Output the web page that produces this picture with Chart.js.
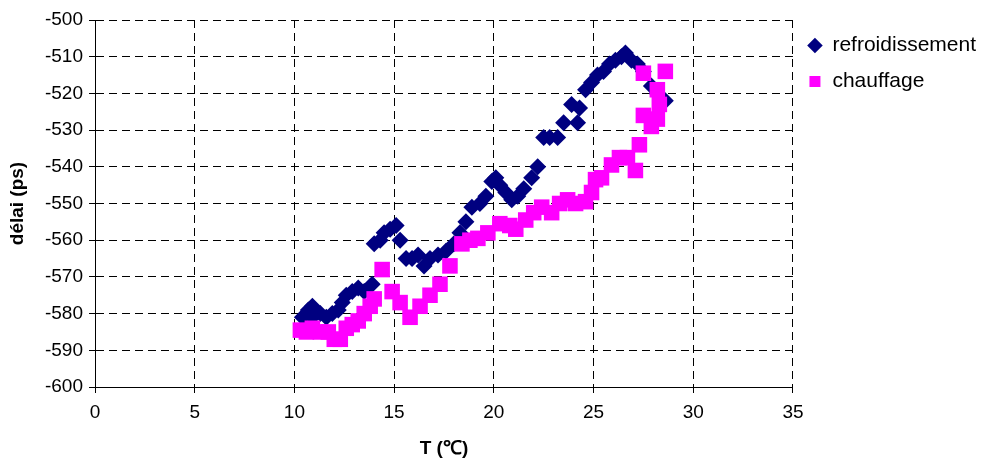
<!DOCTYPE html>
<html>
<head>
<meta charset="utf-8">
<script src="https://cdn.jsdelivr.net/npm/chart.js@4.4.0/dist/chart.umd.min.js"></script>
<style>
  html, body { margin: 0; padding: 0; background: #fff; }
  #wrap { width: 1004px; height: 460px; }
</style>
</head>
<body>
<div id="wrap"><canvas id="chart"></canvas></div>
<script>
// refroidissement (cooling) - T in deg C, delay in ps
const refroidT = [10.4, 10.7, 10.9, 10.9, 11.3, 11.6, 11.9, 12.2, 12.4, 12.6, 12.9, 13.2, 13.5, 13.9,
  14.0, 14.3, 14.5, 14.8, 15.1, 15.3, 15.6, 15.9, 16.2, 16.5, 16.8, 17.2, 17.6, 18.0, 18.3, 18.6,
  18.9, 19.3, 19.6, 19.9, 20.1, 20.3, 20.6, 20.9, 21.2, 21.5, 21.9, 22.2, 22.5, 22.8, 23.2, 23.5,
  23.9, 24.2, 24.3, 24.6, 24.9, 25.2, 25.5, 25.8, 26.1, 26.4, 26.6, 26.9, 27.2, 27.5, 27.9, 28.2, 28.6];
const refroidDelai = [-581, -579, -578, -581, -580, -581, -580, -579, -577, -575, -574, -573, -574, -572,
  -561, -560, -558, -557, -556, -560, -565, -565, -564, -567, -565, -564, -563, -561, -558, -555,
  -551, -550, -548, -544, -543, -545, -547, -549, -548, -546, -543, -540, -532, -532, -532, -528,
  -523, -528, -524, -519, -517, -515, -514, -512, -511, -510, -509, -511, -512, -514, -518, -520, -522];

// chauffage (heating)
const chauffT = [10.3, 10.6, 10.9, 11.3, 11.7, 12.0, 12.3, 12.6, 12.9, 13.2, 13.5, 13.8, 14.0, 14.4,
  14.9, 15.3, 15.8, 16.3, 16.8, 17.3, 17.8, 18.4, 18.8, 19.2, 19.7, 20.3, 20.8, 21.1, 21.6, 22.0,
  22.4, 22.9, 23.3, 23.7, 24.1, 24.6, 24.9, 25.1, 25.4, 25.9, 26.3, 26.7, 27.1, 27.3, 27.5, 27.9,
  28.2, 28.3, 28.2, 27.5, 28.6];
const chauffDelai = [-584.5, -585, -584, -585, -585, -587, -587, -584, -583, -582, -580, -578, -576, -568,
  -574, -577, -581, -578, -575, -572, -567, -561, -560, -559.5, -558, -555.5, -556, -557, -554.5, -552.5,
  -551, -552.5, -550, -549, -550, -549.5, -547, -543.5, -543, -539.5, -537.5, -537.5, -541, -534, -526, -529,
  -527, -523, -519, -514.5, -514];

const xMin = 0, xMax = 35, xStep = 5;
const yMin = -600, yMax = -500, yStep = 10;

const toPoints = (xs, ys) => xs.map((x, i) => ({ x: x, y: ys[i] }));

Chart.defaults.font.family = '"Liberation Sans", Arial, sans-serif';
Chart.defaults.color = '#000';

const ctx = document.getElementById('chart').getContext('2d');

new Chart(ctx, {
  type: 'scatter',
  data: {
    datasets: [
      {
        label: 'refroidissement',
        data: toPoints(refroidT, refroidDelai),
        pointStyle: 'rectRot',
        pointRadius: 8.5,
        pointHoverRadius: 8.5,
        backgroundColor: '#000080',
        borderColor: '#000080',
        borderWidth: 0,
        order: 1,
      },
      {
        label: 'chauffage',
        data: toPoints(chauffT, chauffDelai),
        pointStyle: 'rect',
        pointRadius: 11,
        pointHoverRadius: 11,
        backgroundColor: '#ff00ff',
        borderColor: '#ff00ff',
        borderWidth: 0,
        order: 0,
      },
    ],
  },
  options: {
    responsive: true,
    maintainAspectRatio: false,
    animation: false,
    layout: {
      padding: { top: 20, right: 18, bottom: 0, left: 0 },
    },
    plugins: {
      tooltip: { enabled: false },
      legend: {
        position: 'right',
        align: 'start',
        labels: {
          usePointStyle: true,
          boxWidth: 14,
          boxHeight: 11,
          padding: 15,
          color: '#000',
          font: { size: 21 },
          sort: (a, b) => a.datasetIndex - b.datasetIndex,
        },
      },
    },
    scales: {
      x: {
        type: 'linear',
        min: xMin,
        max: xMax,
        ticks: { stepSize: xStep, font: { size: 19 }, padding: 8 },
        grid: { color: '#000', lineWidth: 1, tickLength: 6, tickColor: '#000' },
        border: { display: true, color: '#000', width: 1, dash: [8, 5] },
        title: {
          display: true,
          text: 'T (℃)',
          font: { size: 19, weight: 'bold' },
          padding: { top: 4, bottom: 0 },
        },
        afterFit: scale => { scale.height = 73; },
      },
      y: {
        min: yMin,
        max: yMax,
        ticks: { stepSize: yStep, font: { size: 19 }, padding: 6 },
        grid: { color: '#000', lineWidth: 1, tickLength: 6, tickColor: '#000' },
        border: { display: true, color: '#000', width: 1, dash: [8, 5] },
        title: {
          display: true,
          text: 'délai (ps)',
          font: { size: 19, weight: 'bold' },
          padding: { top: 6, bottom: 4 },
        },
        afterFit: scale => { scale.width = 95; },
      },
    },
  },
});
</script>
</body>
</html>
